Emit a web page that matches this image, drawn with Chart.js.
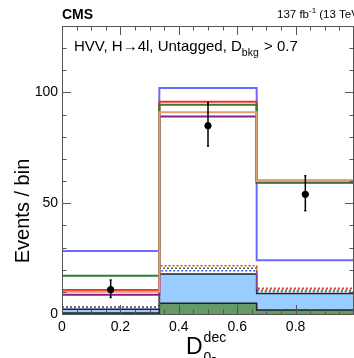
<!DOCTYPE html>
<html><head><meta charset="utf-8">
<script src="https://cdn.jsdelivr.net/npm/chart.js@4/dist/chart.umd.min.js"></script>
<style>html,body{margin:0;padding:0;background:#fff;overflow:hidden}#wrap{width:354px;height:358px;position:relative}</style>
</head><body><div id="wrap"><canvas id="c"></canvas></div>
<script>
// Bin layout of D_0-^dec
const binEdges = [0, 1/3, 2/3, 1];
const binCenters = [1/6, 1/2, 5/6];
// Observed events with asymmetric Poisson intervals
const dataObs = [11, 85, 54];
const dataHigh = [15.3, 95.5, 62.4];
const dataLow = [7.4, 75.8, 46.6];
// Stacked backgrounds
const bkgZX = [0.5, 4.8, 1.8];
const bkgTotal = [2.1, 18.0, 9.3];
// Background + signal variants (dotted)
const stackRed = [3.1, 21.8, 11.6];
const stackGreen = [3.0, 20.6, 10.8];
const stackBlue = [2.9, 19.5, 10.2];
// Signal hypotheses (solid)
const sigBlue = [28.4, 102, 24.3];
const sigRed = [10.8, 95.8, 60.3];
const sigGreen = [17.3, 94.5, 59.7];
const sigOrange = [10.0, 91.1, 60.0];
const sigPurple = [8.7, 89.2, 59.2];
// Axis labels
const yTicks = [0, 50, 100];
const xTicks = [0, 0.2, 0.4, 0.6, 0.8];

const FONT = '"Liberation Sans", Arial, Helvetica, sans-serif';

function steps(vals) {
  const pts = vals.map((v, i) => ({x: binEdges[i], y: v}));
  pts.push({x: binEdges[binEdges.length - 1], y: vals[vals.length - 1]});
  return pts;
}
function hist(label, vals, color, order, extra) {
  return Object.assign({
    type: 'line', label, data: steps(vals), stepped: 'before',
    borderColor: color, borderWidth: 2, pointRadius: 0, fill: false, order
  }, extra || {});
}

// Inner ROOT-style ticks, frame, error bars and text
const decor = {
  id: 'decor',
  afterDatasetsDraw(chart) {
    const {ctx, scales: {x, y}} = chart;
    ctx.save();
    ctx.strokeStyle = '#000'; ctx.lineWidth = 1.5;
    binCenters.forEach((c, i) => {
      const px = x.getPixelForValue(c);
      const hi = y.getPixelForValue(dataHigh[i]);
      const lo = y.getPixelForValue(dataLow[i]);
      ctx.beginPath(); ctx.moveTo(px, hi); ctx.lineTo(px, lo); ctx.stroke();
      ctx.beginPath(); ctx.moveTo(px - 1, hi); ctx.lineTo(px + 1, hi);
      ctx.moveTo(px - 1, lo); ctx.lineTo(px + 1, lo); ctx.stroke();
    });
    ctx.restore();
  },
  afterDraw(chart) {
    const {ctx, chartArea: a, scales: {x, y}} = chart;
    ctx.save();
    ctx.strokeStyle = '#555'; ctx.lineWidth = 1;
    ctx.strokeRect(Math.round(a.left) + 0.5, Math.round(a.top) + 0.5, Math.round(a.right - a.left) - 1, Math.round(a.bottom - a.top));
    ctx.beginPath();
    for (let v = 0; v <= 1.0001; v += 0.05) {
      const px = Math.round(x.getPixelForValue(v)) + 0.5;
      const major = Math.abs(v / 0.2 - Math.round(v / 0.2)) < 1e-6;
      const len = major ? 9 : 4.5;
      ctx.moveTo(px, a.bottom); ctx.lineTo(px, a.bottom - len);
      ctx.moveTo(px, a.top); ctx.lineTo(px, a.top + len);
    }
    for (let v = 0; v <= 130; v += 10) {
      const py = Math.round(y.getPixelForValue(v)) + 0.5;
      const len = v % 50 === 0 ? 9 : 4.5;
      ctx.moveTo(a.left, py); ctx.lineTo(a.left + len, py);
      ctx.moveTo(a.right, py); ctx.lineTo(a.right - len, py);
    }
    ctx.stroke();

    ctx.fillStyle = '#000';
    ctx.textBaseline = 'alphabetic';
    ctx.textAlign = 'left';
    ctx.font = 'bold 14px ' + FONT;
    ctx.fillText('CMS', 62, 19);
    ctx.font = '11.5px ' + FONT;
    ctx.fillText('137 fb', 277, 18);
    let w = ctx.measureText('137 fb').width;
    ctx.font = '8px ' + FONT;
    ctx.fillText('-1', 277 + w, 13);
    let w2 = ctx.measureText('-1').width;
    ctx.font = '11.5px ' + FONT;
    ctx.fillText(' (13 TeV)', 277 + w + w2, 18);

    // category label
    ctx.font = '15px ' + FONT;
    const t1 = 'HVV, H\u21924l, Untagged, D';
    ctx.fillText(t1, 74, 51);
    let tw = ctx.measureText(t1).width;
    ctx.font = '10.5px ' + FONT;
    ctx.fillText('bkg', 74 + tw, 56);
    let bw = ctx.measureText('bkg').width;
    ctx.font = '15px ' + FONT;
    ctx.fillText(' > 0.7', 74 + tw + bw + 1, 51);

    // y-axis title
    ctx.save();
    ctx.translate(29, 211);
    ctx.rotate(-Math.PI / 2);
    ctx.textAlign = 'center';
    ctx.font = '20px ' + FONT;
    ctx.fillText('Events / bin', 0, 0);
    ctx.restore();

    // x-axis title
    ctx.font = '23px ' + FONT;
    ctx.fillText('D', 186, 354);
    const dw = ctx.measureText('D').width;
    ctx.font = '14px ' + FONT;
    ctx.fillText('dec', 186 + dw + 1, 342);
    ctx.fillText('0-', 186 + dw + 1, 362);
    ctx.restore();
  }
};

new Chart(document.getElementById('c'), {
  data: {
    datasets: [
      {type: 'scatter', label: 'Observed', data: dataObs.map((v, i) => ({x: binCenters[i], y: v})),
       pointRadius: 3.2, pointBackgroundColor: '#000', pointBorderColor: '#000', order: 1},
      hist('sigOrange', sigOrange, '#dfa070', 6),
      hist('sigGreen', sigGreen, '#2e7d32', 7),
      hist('sigPurple', sigPurple, '#8b1a8b', 8),
      hist('sigRed', sigRed, '#ff2a2a', 9),
      hist('sigBlue', sigBlue, '#6a6aff', 10),
      hist('stackBlue', stackBlue, '#4455ff', 15, {borderWidth: 1.5, borderDash: [2, 2]}),
      hist('stackGreen', stackGreen, '#1f7a1f', 16, {borderWidth: 1.5, borderDash: [2, 2]}),
      hist('stackRed', stackRed, '#ff3030', 17, {borderWidth: 1.5, borderDash: [2, 2]}),
      hist('bkgZX', bkgZX, '#222', 19, {borderWidth: 1.5, fill: 'origin', backgroundColor: '#669966'}),
      hist('bkgTotal', bkgTotal, '#222', 20, {borderWidth: 1.5, fill: 'origin', backgroundColor: '#99ccff'})
    ]
  },
  options: {
    responsive: true, maintainAspectRatio: false, animation: false,
    // the frame's right edge sits just beyond the canvas edge
    layout: {autoPadding: false, padding: {top: 26, right: -3, left: 0, bottom: 0}},
    plugins: {legend: {display: false}, tooltip: {enabled: false}},
    scales: {
      x: {
        type: 'linear', min: 0, max: 1,
        afterFit: s => { s.height = 44; s.paddingRight = 0; s.paddingLeft = 0; },
        grid: {display: false, drawTicks: false},
        border: {display: false},
        ticks: {
          stepSize: 0.2, includeBounds: false, padding: 5, maxRotation: 0, color: '#000',
          font: {family: FONT, size: 14},
          callback: v => { const k = xTicks.findIndex(t => Math.abs(t - v) < 1e-6); return k >= 0 ? String(xTicks[k]) : ''; }
        }
      },
      y: {
        type: 'linear', min: 0, max: 130,
        afterFit: s => { s.width = 62; },
        grid: {display: false, drawTicks: false},
        border: {display: false},
        ticks: {
          stepSize: 50, includeBounds: false, padding: 4, color: '#000',
          font: {family: FONT, size: 14},
          callback: v => yTicks.includes(v) ? String(v) : ''
        }
      }
    }
  },
  plugins: [decor]
});
</script>
</body></html>
